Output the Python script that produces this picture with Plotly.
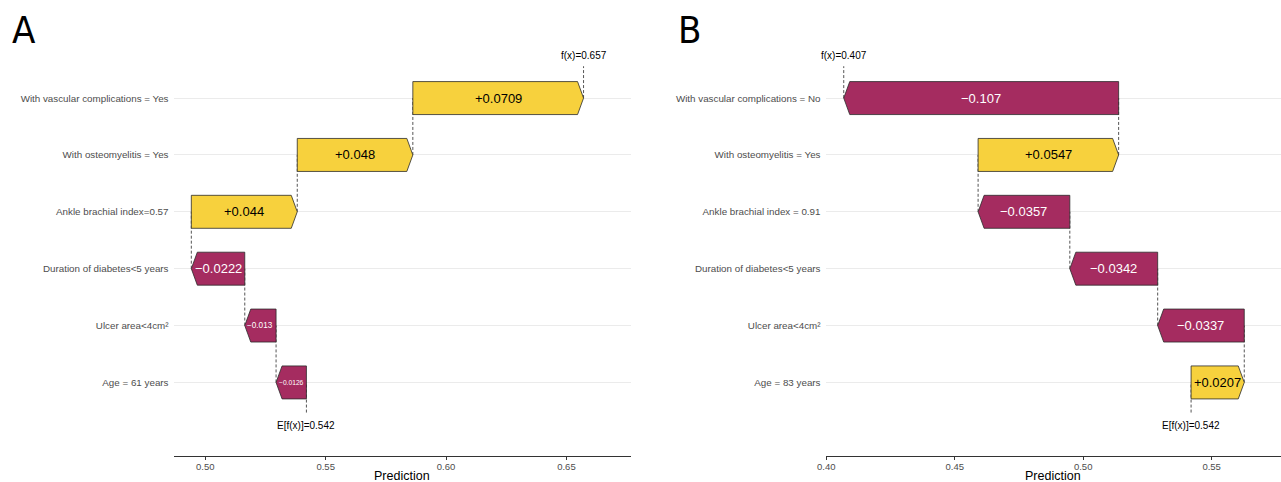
import plotly.graph_objects as go

# ---- data -------------------------------------------------------------
# features listed from the bottom row up to the top row
features_a = [
    "Age = 61 years",
    "Ulcer area<4cm²",
    "Duration of diabetes<5 years",
    "Ankle brachial index=0.57",
    "With osteomyelitis = Yes",
    "With vascular complications = Yes",
]
shap_a = [-0.0126, -0.013, -0.0222, 0.044, 0.048, 0.0709]

features_b = [
    "Age = 83 years",
    "Ulcer area<4cm²",
    "Duration of diabetes<5 years",
    "Ankle brachial index = 0.91",
    "With osteomyelitis = Yes",
    "With vascular complications = No",
]
shap_b = [0.0207, -0.0337, -0.0342, -0.0357, 0.0547, -0.107]

baseline = 0.542
panel_letters = ["A", "B"]
x_ticks_a = [0.50, 0.55, 0.60, 0.65]
x_ticks_b = [0.40, 0.45, 0.50, 0.55]

# ---- style / layout ---------------------------------------------------
W, H = 1281, 482
POS_COLOR = "#f7d13d"
NEG_COLOR = "#a52c60"
EDGE = "#2b2b2b"
DASH_COLOR = "#555555"
GRID = "#ebebeb"
TXT = "#4d4d4d"
FONT = "Liberation Sans, Arial, sans-serif"
LETTER_FONT = "DejaVu Sans Condensed, Liberation Sans Narrow, sans-serif"

HALF_H = 0.29        # half bar height in row units
HEAD_PX = 6          # arrow head depth in pixels
MAX_LABEL = 13       # largest bar label font size

plot_top_px, plot_bot_px = 30, 455.5
ydomain = [(H - plot_bot_px) / H, (H - plot_top_px) / H]
yrange = [-0.285, 7.197]

panels = [
    dict(feat=features_a, vals=shap_a, xdom_px=(173.5, 630.5),
         xrange=[0.4868, 0.6766], ticks=x_ticks_a, letter_x=10),
    dict(feat=features_b, vals=shap_b, xdom_px=(825.5, 1281.0),
         xrange=[0.3997, 0.5770], ticks=x_ticks_b, letter_x=676),
]

# approximate Arial advance widths (em) for fitting labels inside bars
CHAR_W = {c: 0.556 for c in "0123456789"}
CHAR_W.update({".": 0.278, "+": 0.584, "\u2212": 0.584})


def text_em(s):
    return sum(CHAR_W.get(c, 0.556) for c in s)


def fmt_delta(v):
    sign = "+" if v > 0 else "\u2212"
    return f"{sign}{abs(v):.3g}"


fig = go.Figure()
annotations = []
dash_line = dict(color=DASH_COLOR, width=1, dash="3px,2px")

for k, p in enumerate(panels):
    ax = "" if k == 0 else str(k + 1)
    xref, yref = "x" + ax, "y" + ax
    x0px, x1px = p["xdom_px"]
    ppu = (x1px - x0px) / (p["xrange"][1] - p["xrange"][0])
    head = HEAD_PX / ppu

    vals = p["vals"]
    n = len(vals)
    rows = list(range(1, n + 1))
    starts, ends = [], []
    cum = baseline
    for v in vals:
        starts.append(cum)
        cum += v
        ends.append(cum)
    fx = cum

    # dashed connectors between consecutive bars
    for i in range(n - 1):
        fig.add_trace(go.Scatter(
            x=[ends[i], ends[i]], y=[rows[i], rows[i + 1]], mode="lines",
            line=dash_line, xaxis=xref, yaxis=yref,
            hoverinfo="skip", showlegend=False))
    # baseline and prediction markers
    fig.add_trace(go.Scatter(
        x=[baseline, baseline], y=[0.47, rows[0]], mode="lines",
        line=dash_line, xaxis=xref, yaxis=yref,
        hoverinfo="skip", showlegend=False))
    fig.add_trace(go.Scatter(
        x=[fx, fx], y=[rows[-1], n + 0.56], mode="lines",
        line=dash_line, xaxis=xref, yaxis=yref,
        hoverinfo="skip", showlegend=False))

    # arrow-shaped bars
    for i, v in enumerate(vals):
        y = rows[i]
        s, e = starts[i], ends[i]
        d = min(head, abs(v))
        if v > 0:
            xs = [s, s, e - d, e, e - d, s]
        else:
            xs = [s, s, e + d, e, e + d, s]
        ys = [y - HALF_H, y + HALF_H, y + HALF_H, y, y - HALF_H, y - HALF_H]
        color = POS_COLOR if v > 0 else NEG_COLOR
        fig.add_trace(go.Scatter(
            x=xs, y=ys, mode="lines", fill="toself", fillcolor=color,
            line=dict(color=EDGE, width=0.8),
            xaxis=xref, yaxis=yref, hoverinfo="skip", showlegend=False))

        label = fmt_delta(v)
        width_px = abs(v) * ppu
        size = min(MAX_LABEL, (width_px - 6) / text_em(label))
        annotations.append(dict(
            x=(s + e) / 2, y=y, xref=xref, yref=yref, text=label,
            showarrow=False, xanchor="center", yanchor="middle",
            font=dict(family=FONT, size=size,
                      color="black" if v > 0 else "white")))

    # f(x) and E[f(x)] labels
    annotations.append(dict(
        x=fx, y=n + 0.74, xref=xref, yref=yref, text=f"f(x)={fx:.3g}",
        showarrow=False, xanchor="center", yanchor="middle",
        font=dict(family=FONT, size=10, color="black")))
    annotations.append(dict(
        x=baseline, y=0.243, xref=xref, yref=yref,
        text=f"E[f(x)]={baseline:.3g}",
        showarrow=False, xanchor="center", yanchor="middle",
        font=dict(family=FONT, size=10, color="black")))

    # axis title and panel letter
    annotations.append(dict(
        x=(x0px + x1px) / 2 / W, y=(H - 475.5) / H, xref="paper",
        yref="paper", text="Prediction", showarrow=False,
        xanchor="center", yanchor="middle",
        font=dict(family=FONT, size=12.5, color="black")))
    annotations.append(dict(
        x=p["letter_x"] / W, y=(H - 30) / H, xref="paper", yref="paper",
        text=panel_letters[k], showarrow=False, xanchor="left",
        yanchor="middle",
        font=dict(family=LETTER_FONT, size=38, color="black")))

    fig.update_layout(**{
        "xaxis" + ax: dict(
            domain=[x0px / W, x1px / W], range=p["xrange"], anchor=yref,
            automargin=False,
            showgrid=False, zeroline=False, showline=True,
            linecolor="#333333", linewidth=1, ticks="outside", ticklen=3,
            tickcolor="#333333", tickwidth=1, tickvals=p["ticks"],
            ticktext=[f"{t:.2f}" for t in p["ticks"]],
            ticklabelstandoff=-1,
            tickfont=dict(family=FONT, size=9.5, color=TXT)),
        "yaxis" + ax: dict(
            domain=ydomain, range=yrange, anchor=xref, automargin=False,
            showgrid=True, gridcolor=GRID, gridwidth=1, zeroline=False,
            showline=False, ticks="", tickvals=rows, ticktext=p["feat"],
            ticklabelstandoff=4,
            tickfont=dict(family=FONT, size=9.8, color=TXT)),
    })

fig.update_layout(
    width=W, height=H, margin=dict(l=0, r=0, t=0, b=0),
    paper_bgcolor="white", plot_bgcolor="white",
    annotations=annotations, showlegend=False,
)

fig.write_html("out.html")
